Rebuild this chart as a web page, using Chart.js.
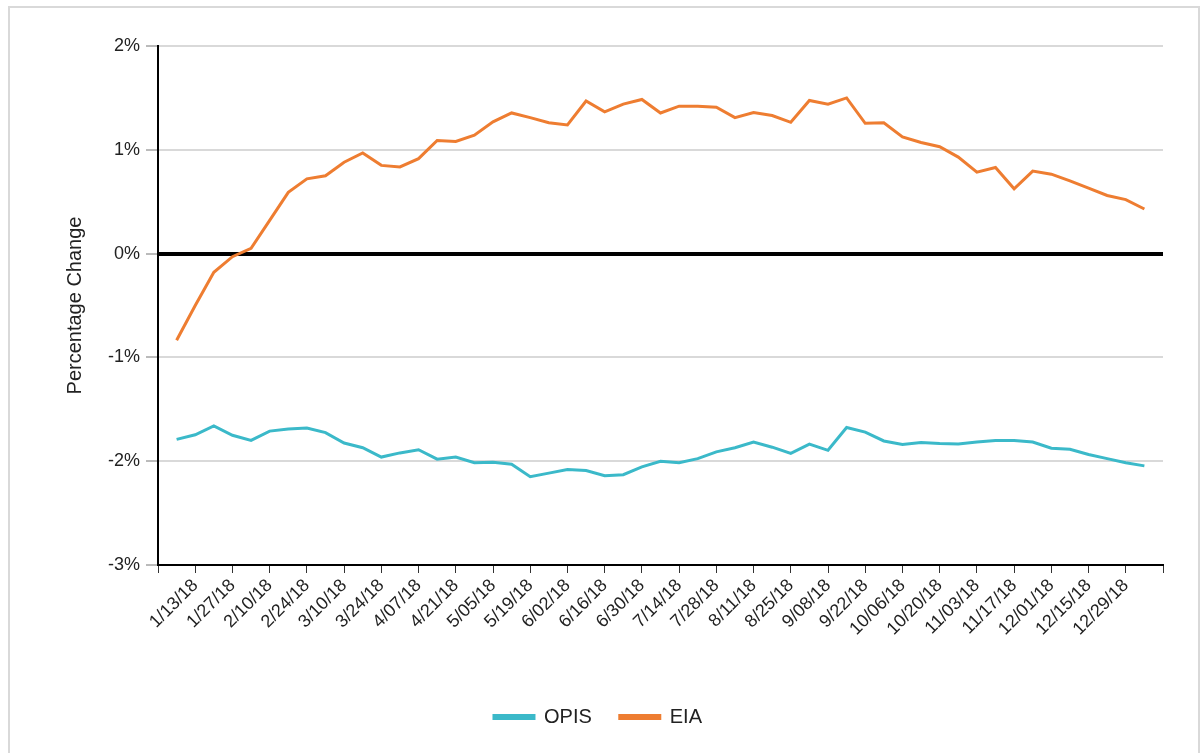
<!doctype html>
<html lang="en">
<!--=========-->

<head>
	<!--=====Meta Configurations====-->
	<meta charset="utf-8" name="viewport" content="width=device-width, initial-scale=1">
	<!--=====End Meta Configurations====-->

	<title>OPIS vs EIA - Percentage Change</title>

	<!--=====CSS Style====-->
	<style>
		* {
			font-family: "Liberation Sans", Arial, sans-serif;
			margin: 0;
			padding: 0;
		}

		body {
			width: 1204px;
			height: 753px;
			overflow: hidden;
			background: white;
		}

		.chartFrame {
			position: absolute;
			left: 8px;
			top: 6px;
			width: 1188px;
			height: 800px;
			border: 2px solid #d9d9d9;
		}

		.chartBox {
			position: absolute;
			left: 0;
			top: 0;
			width: 1204px;
			height: 753px;
		}
	</style>
	<!--=====End CSS Style====-->
</head>
<!--=========-->

<body>
	<div class="chartFrame"></div>
	<div class="chartBox">
		<canvas id="myChart"></canvas>
	</div>

	<script type="text/javascript" src="https://cdn.jsdelivr.net/npm/chart.js"></script>

	<script>
		/*=====Data=====*/
		const weeks = [
			'1/06/18', '1/13/18', '1/20/18', '1/27/18', '2/03/18', '2/10/18', '2/17/18', '2/24/18',
			'3/03/18', '3/10/18', '3/17/18', '3/24/18', '3/31/18', '4/07/18', '4/14/18', '4/21/18',
			'4/28/18', '5/05/18', '5/12/18', '5/19/18', '5/26/18', '6/02/18', '6/09/18', '6/16/18',
			'6/23/18', '6/30/18', '7/07/18', '7/14/18', '7/21/18', '7/28/18', '8/04/18', '8/11/18',
			'8/18/18', '8/25/18', '9/01/18', '9/08/18', '9/15/18', '9/22/18', '9/29/18', '10/06/18',
			'10/13/18', '10/20/18', '10/27/18', '11/03/18', '11/10/18', '11/17/18', '11/24/18', '12/01/18',
			'12/08/18', '12/15/18', '12/22/18', '12/29/18', '1/05/19'
		];

		const opis = [
			-1.79, -1.745, -1.66, -1.75, -1.80, -1.71, -1.69, -1.68, -1.725, -1.825,
			-1.87, -1.96, -1.92, -1.89, -1.98, -1.96, -2.015, -2.01, -2.03, -2.15,
			-2.115, -2.08, -2.09, -2.14, -2.13, -2.055, -2.00, -2.015, -1.975, -1.91,
			-1.87, -1.815, -1.865, -1.925, -1.835, -1.895, -1.675, -1.72, -1.805, -1.84,
			-1.82, -1.83, -1.835, -1.815, -1.80, -1.80, -1.815, -1.875, -1.885, -1.935,
			-1.975, -2.015, -2.045
		];

		const eia = [
			-0.835, -0.50, -0.18, -0.03, 0.05, 0.32, 0.59, 0.72, 0.75, 0.88,
			0.97, 0.85, 0.835, 0.915, 1.09, 1.08, 1.14, 1.27, 1.355, 1.31,
			1.26, 1.24, 1.47, 1.365, 1.44, 1.485, 1.355, 1.42, 1.42, 1.41,
			1.31, 1.36, 1.33, 1.265, 1.475, 1.44, 1.50, 1.255, 1.26, 1.125,
			1.07, 1.03, 0.93, 0.785, 0.83, 0.625, 0.795, 0.765, 0.70, 0.63,
			0.56, 0.52, 0.43
		];
		/*=====End Data=====*/

		/*=====Graphic Setup=====*/
		// x = week number, the axis runs one week past each end of the data
		const toPoints = (values) => values.map((v, i) => ({ x: i + 1, y: v }));

		const data = {
			datasets: [{
				label: 'OPIS',
				data: toPoints(opis),
				borderColor: '#3bb9c9',
				backgroundColor: '#3bb9c9',
				borderWidth: 3,
				pointRadius: 0,
				fill: false
			}, {
				label: 'EIA',
				data: toPoints(eia),
				borderColor: '#ee7d31',
				backgroundColor: '#ee7d31',
				borderWidth: 3,
				pointRadius: 0,
				fill: false
			}]
		};
		/*=====End Graphic Setup=====*/

		/*=====Graphic Configuration=====*/
		const config = {
			type: 'line',
			data,
			options: {
				responsive: true,
				maintainAspectRatio: false,
				animation: false,
				layout: {
					padding: { left: 33, right: 41, top: 46, bottom: 16 }
				},
				plugins: {
					legend: {
						position: 'bottom',
						labels: {
							boxWidth: 40,
							boxHeight: 3,
							padding: 28,
							color: '#222',
							font: { size: 20, family: '"Liberation Sans", Arial, sans-serif' }
						}
					},
					tooltip: { enabled: false }
				},
				scales: {
					x: {
						type: 'linear',
						min: 0,
						max: 54,
						afterFit: (scale) => { scale.height = 114; },
						border: { color: '#000', width: 2 },
						grid: {
							drawOnChartArea: false,
							drawTicks: true,
							tickLength: 8,
							tickColor: '#333',
							tickWidth: 1
						},
						ticks: {
							stepSize: 2,
							maxTicksLimit: 100,
							autoSkip: false,
							minRotation: 45,
							maxRotation: 45,
							padding: 2,
							color: '#222',
							font: { size: 18, family: '"Liberation Sans", Arial, sans-serif' },
							callback: (value) => (value >= 2 && value <= 52) ? weeks[value - 1] : ''
						}
					},
					y: {
						min: -3,
						max: 2,
						afterFit: (scale) => { scale.width = 125; },
						border: { color: '#000', width: 2 },
						grid: {
							color: (ctx) => ctx.tick && ctx.tick.value === 0 ? '#000' : '#d9d9d9',
							lineWidth: (ctx) => ctx.tick && ctx.tick.value === 0 ? 4 : 2,
							tickLength: 12,
							tickColor: '#777',
							tickWidth: 1
						},
						ticks: {
							stepSize: 1,
							padding: 6,
							color: '#222',
							font: { size: 18, family: '"Liberation Sans", Arial, sans-serif' },
							callback: (value) => value + '%'
						},
						title: {
							display: true,
							text: 'Percentage Change',
							color: '#222',
							padding: { top: 30, bottom: 4 },
							font: { size: 20, family: '"Liberation Sans", Arial, sans-serif' }
						}
					}
				}
			}
		};
		/*=====End Graphic Configuration=====*/

		/*=====Graphic Render=====*/
		const myChart = new Chart(
			document.getElementById('myChart'),
			config
		);
		/*=====End Graphic Render=====*/
	</script>
</body>
<!--=========-->

</html>
